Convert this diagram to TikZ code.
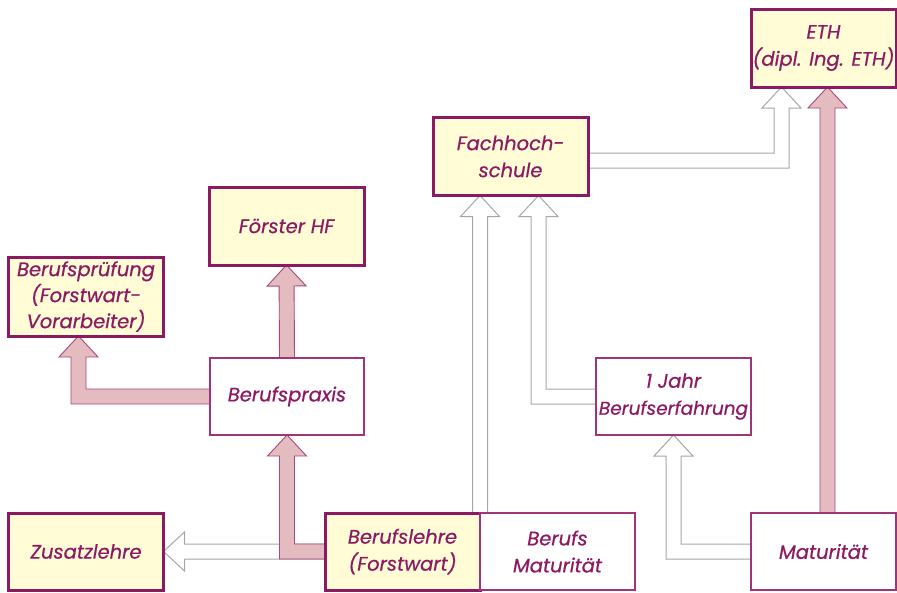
\documentclass[tikz,border=0pt]{standalone}
\usepackage{fontspec}
\setmainfont{Poppins}[ItalicFeatures={FakeBold=0.6}]
\usetikzlibrary{calc,backgrounds}

\definecolor{boxyellow}{HTML}{FFFCD6}
\definecolor{plum}{HTML}{8C1A63}
\definecolor{plumlight}{HTML}{A0347A}
\definecolor{rosefill}{HTML}{E4BBBF}
\definecolor{roseline}{HTML}{A8487F}
\definecolor{greyline}{HTML}{A6A6A6}

\tikzset{
  box/.style={rectangle, minimum width=155pt, minimum height=78pt, align=center,
    text=plum, font=\fontsize{19.5}{27}\selectfont\itshape, inner sep=1pt, outer sep=0pt},
  goal/.style={box, fill=boxyellow, draw=plum, line width=3pt},
  stage/.style={box, fill=white, draw=plumlight, line width=1.3pt},
  pinkarrow/.style={fill=rosefill, draw=roseline, line width=0.9pt, line join=miter},
  whitearrow/.style={fill=white, draw=greyline, line width=1pt, line join=miter},
}

% block arrow dimensions
\newcommand\shaftw{7.5pt}
\newcommand\headw{19.5pt}
\newcommand\headl{21pt}

% straight block arrow: style, from, to
\newcommand\straightbar[3]{%
  \coordinate (sb-base) at ($(#3)!\headl!(#2)$);
  \path[#1] ($(#2)!\shaftw!90:(#3)$) -- ($(sb-base)!\shaftw!-90:(#2)$)
    -- ($(sb-base)!\headw!-90:(#2)$) -- (#3) -- ($(sb-base)!\headw!90:(#2)$)
    -- ($(sb-base)!\shaftw!90:(#2)$) -- ($(#2)!\shaftw!-90:(#3)$) -- cycle;}

% elbow block arrow: horizontal leg from the start, vertical leg into the tip
\newcommand\bentbar[3]{%
  \path[#1] let \p1=(#2), \p2=(#3), \n1={sign(\x2-\x1)}, \n2={sign(\y2-\y1)} in
    (\x1,{\y1+(\n2)*\shaftw}) -- ({\x2-(\n1)*\shaftw},{\y1+(\n2)*\shaftw})
    -- ({\x2-(\n1)*\shaftw},{\y2-(\n2)*\headl}) -- ({\x2-(\n1)*\headw},{\y2-(\n2)*\headl})
    -- (\x2,\y2) -- ({\x2+(\n1)*\headw},{\y2-(\n2)*\headl})
    -- ({\x2+(\n1)*\shaftw},{\y2-(\n2)*\headl}) -- ({\x2+(\n1)*\shaftw},{\y1-(\n2)*\shaftw})
    -- (\x1,{\y1-(\n2)*\shaftw}) -- cycle;}

\begin{document}
\begin{tikzpicture}[x=1pt, y=-1pt]
  \useasboundingbox (0,0) rectangle (897,592);

  % nodes
  \node[goal, minimum width=145pt] (eth) at (823.5,48) {ETH\\(dipl. Ing. ETH)};
  \node[goal] (fh) at (510.5,156.5) {Fachhoch-\\schule};
  \node[goal] (hf) at (286.5,226) {Förster HF};
  \node[goal, minimum height=79pt, font=\fontsize{19.5}{26}\selectfont\itshape] (bp) at (86,296.5) {Berufsprüfung\\(Forstwart-\\Vorarbeiter)};
  \node[stage, minimum width=154pt, minimum height=77pt] (praxis) at (287,396.5) {Berufspraxis};
  \node[stage, minimum height=77pt] (jahr) at (673.5,396.5) {1 Jahr\\{\fontsize{18.5}{27}\selectfont Berufserfahrung}};
  \node[goal, minimum height=77pt] (zus) at (86,551.5) {Zusatzlehre};
  \node[goal, minimum height=77pt] (lehre) at (402.5,551.5) {Berufslehre\\(Forstwart)};
  \node[stage, minimum height=77pt] (bm) at (557.5,551.5) {Berufs\\Maturität};
  \node[stage, minimum width=145pt, minimum height=77pt] (mat) at (823.5,551.5) {Maturität};

  % connectors
  \begin{pgfonlayer}{background}
    \coordinate (bmfoot) at (lehre.north east);
    \coordinate (bmtip) at (lehre.north east |- fh.south);
    \coordinate (jahrtip) at ([xshift=28pt]fh.south);
    \coordinate (fhout) at ([yshift=-4pt]fh.east);
    \coordinate (ethtipA) at ([xshift=-42pt]eth.south);
    \coordinate (ethtipB) at ([xshift=4pt]eth.south);
    \coordinate (matfoot) at ([xshift=4pt]mat.north);
    \coordinate (bptip) at ([xshift=-7.5pt]bp.south);

    \straightbar{whitearrow}{lehre.west}{zus.east}
    \straightbar{whitearrow}{bmfoot}{bmtip}
    \bentbar{whitearrow}{jahr.west}{jahrtip}
    \bentbar{whitearrow}{fhout}{ethtipA}
    \bentbar{whitearrow}{mat.west}{jahr.south}

    \bentbar{pinkarrow}{lehre.west}{praxis.south}
    \straightbar{pinkarrow}{praxis.north}{hf.south}
    \bentbar{pinkarrow}{praxis.west}{bptip}
    \straightbar{pinkarrow}{matfoot}{ethtipB}
  \end{pgfonlayer}
\end{tikzpicture}
\end{document}
